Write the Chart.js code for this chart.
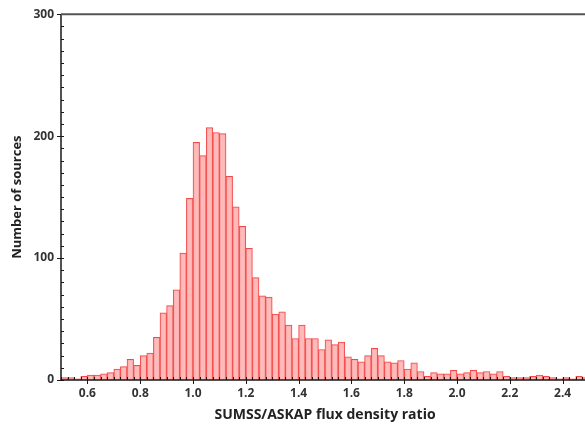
<!DOCTYPE html>
<html>
<head>
<meta charset="utf-8">
<script src="https://cdn.jsdelivr.net/npm/chart.js@4"></script>
<style>
  html, body { margin: 0; padding: 0; background: #fff; overflow: hidden; }
  #wrap { width: 596px; height: 427px; }
</style>
</head>
<body>
<div id="wrap"><canvas id="myChart" width="596" height="427"></canvas></div>
<script>
'use strict';

// histogram bins: 0.5 .. 2.5 in steps of 0.025
const binStart = 0.5;
const binWidth = 0.025;
const counts = [
  2, 2, 1, 3, 4, 4, 5, 6, 9, 11,
  17, 12, 20, 22, 35, 55, 61, 74, 104, 149,
  195, 184, 207, 203, 202, 167, 142, 126, 108, 84,
  69, 68, 54, 56, 45, 34, 45, 34, 34, 25,
  33, 29, 31, 19, 17, 15, 20, 26, 20, 15,
  14, 16, 9, 14, 7, 3, 6, 5, 5, 8,
  5, 6, 8, 6, 7, 5, 7, 3, 2, 2,
  2, 3, 4, 3, 2, 1, 2, 1, 3, 2
];

const xTickValues = [0.6, 0.8, 1.0, 1.2, 1.4, 1.6, 1.8, 2.0, 2.2, 2.4];
const yTickValues = [0, 100, 200, 300];
const xTitle = 'SUMSS/ASKAP flux density ratio';
const yTitle = 'Number of sources';

const labelFont = { family: 'Open Sans', weight: 'bold', size: 12 };
const titleFont = { family: 'Open Sans', weight: 'bold', size: 13 };

let points = [];
for (let i = 0; i < counts.length; i++) {
  points.push({ x: binStart + binWidth * (i + 0.5), y: counts[i] });
}

// frame lines and tick marks
const axisFrame = {
  id: 'axisFrame',
  afterDatasetsDraw(chart) {
    const { ctx, chartArea: a, scales } = chart;
    const x = scales.x;
    const y = scales.y;
    ctx.save();
    ctx.strokeStyle = '#1a1a1a';
    ctx.lineWidth = 1;

    ctx.beginPath();
    // minor x ticks, pointing in
    for (let v = binStart; v < 2.5 + 1e-6; v += binWidth) {
      let px = Math.round(x.getPixelForValue(v)) + 0.5;
      ctx.moveTo(px, a.bottom);
      ctx.lineTo(px, a.bottom - 3);
    }
    // major x ticks, pointing out
    for (let i = 0; i < xTickValues.length; i++) {
      let px = Math.round(x.getPixelForValue(xTickValues[i])) + 0.5;
      ctx.moveTo(px, a.bottom);
      ctx.lineTo(px, a.bottom + 4);
    }
    // minor y ticks, pointing in
    for (let v = 0; v <= 300; v += 10) {
      let py = Math.round(y.getPixelForValue(v)) + 0.5;
      ctx.moveTo(a.left, py);
      ctx.lineTo(a.left + 3, py);
    }
    // major y ticks, pointing out
    for (let i = 0; i < yTickValues.length; i++) {
      let py = Math.round(y.getPixelForValue(yTickValues[i])) + 0.5;
      ctx.moveTo(a.left, py);
      ctx.lineTo(a.left - 4, py);
    }
    ctx.stroke();

    // axis lines
    ctx.lineWidth = 1.5;
    ctx.beginPath();
    ctx.moveTo(a.left, a.top);
    ctx.lineTo(a.left, a.bottom);
    ctx.lineTo(a.right, a.bottom);
    ctx.stroke();

    ctx.strokeStyle = '#555';
    ctx.lineWidth = 2;
    ctx.beginPath();
    ctx.moveTo(a.left, a.top);
    ctx.lineTo(a.right, a.top);
    ctx.stroke();
    ctx.restore();
  }
};

const config = {
  type: 'bar',
  data: {
    datasets: [{
      label: 'Sources',
      data: points,
      backgroundColor: 'rgba(255, 178, 178, 0.9)',
      borderColor: '#f24848',
      borderWidth: 1,
      barPercentage: 1,
      categoryPercentage: 1,
      borderSkipped: 'start'
    }]
  },
  options: {
    responsive: false,
    animation: false,
    layout: { padding: { top: 14, right: 7, bottom: 0, left: 0 } },
    plugins: {
      legend: { display: false },
      tooltip: { enabled: false }
    },
    scales: {
      x: {
        type: 'linear',
        min: 0.5,
        max: 2.5,
        offset: false,
        afterFit: (scale) => { scale.height = 47; },
        afterBuildTicks: (scale) => {
          scale.ticks = xTickValues.map(v => ({ value: v }));
        },
        grid: { display: false, drawTicks: false },
        border: { display: false },
        ticks: {
          font: labelFont,
          color: '#333',
          padding: 6,
          maxRotation: 0,
          autoSkip: false,
          callback: (v) => v.toFixed(1)
        },
        title: {
          display: true,
          text: xTitle,
          font: { family: 'Open Sans', weight: 'bold', size: 14 },
          color: '#222',
          padding: { top: 0, bottom: 4 }
        }
      },
      y: {
        min: 0,
        max: 300,
        afterFit: (scale) => { scale.width = 61; },
        afterBuildTicks: (scale) => {
          scale.ticks = yTickValues.map(v => ({ value: v }));
        },
        grid: { display: false, drawTicks: false },
        border: { display: false },
        ticks: {
          font: labelFont,
          color: '#333',
          padding: 7
        },
        title: {
          display: true,
          text: yTitle,
          font: titleFont,
          color: '#222',
          padding: { top: 9, bottom: 0 }
        }
      }
    }
  },
  plugins: [axisFrame]
};

const myChart = new Chart(document.getElementById('myChart'), config);
</script>
</body>
</html>
